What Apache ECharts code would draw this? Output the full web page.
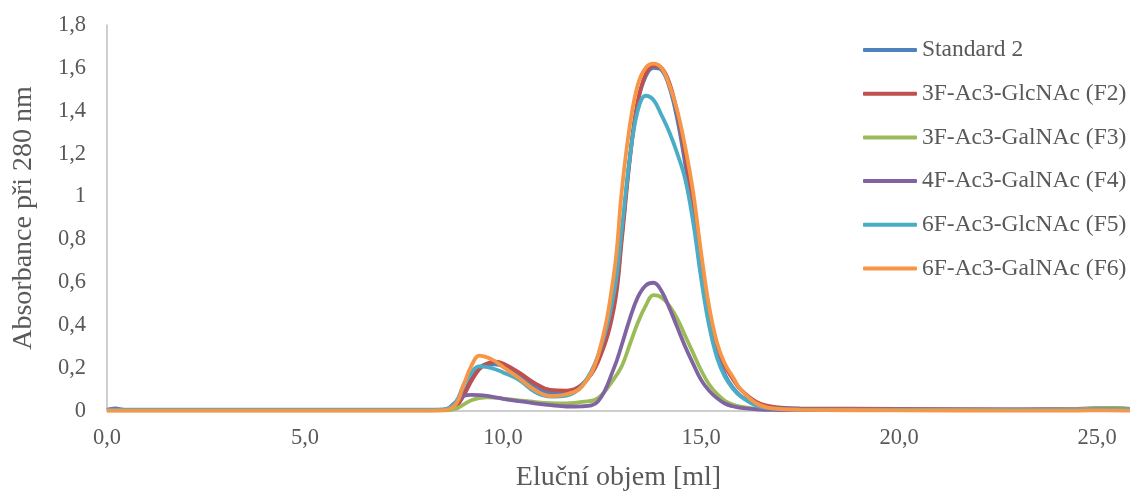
<!DOCTYPE html>
<html>
<head>
<meta charset="utf-8">
<script src="https://cdn.jsdelivr.net/npm/echarts@6/dist/echarts.min.js"></script>
<style>
  html, body { margin: 0; padding: 0; background: #fff; }
  #chart { width: 1130px; height: 493px; }
</style>
</head>
<body>
<div id="chart"></div>
<script>
// elution volume [ml]
const elutionVolume = [0, 0.2, 0.5, 4, 8, 8.5, 8.8, 9.0, 9.2, 9.4, 9.6, 9.8, 10.0, 10.4, 10.8, 11.2, 11.6, 12.0, 12.4, 12.8,
  13.0, 13.2, 13.4, 13.6, 13.8, 14.0, 14.2, 14.4, 14.6, 14.8, 15.0, 15.2, 15.4, 15.6, 15.8, 16.0, 16.4, 16.8, 17.5, 20,
  23, 24.5, 25.2, 25.83];

const standard2 = [0.005, 0.005, 0.005, 0.005, 0.005, 0.006, 0.02, 0.08, 0.15, 0.2, 0.218, 0.218, 0.21, 0.165, 0.115,
  0.085, 0.085, 0.12, 0.24, 0.5, 0.82, 1.18, 1.44, 1.56, 1.60, 1.59, 1.51, 1.36, 1.15, 0.92, 0.64, 0.42, 0.27, 0.17,
  0.11, 0.07, 0.028, 0.014, 0.009, 0.007, 0.006, 0.007, 0.01, 0.008];
const f2GlcNAc3 = [0.004, 0.004, 0.004, 0.004, 0.004, 0.005, 0.02, 0.07, 0.14, 0.195, 0.222, 0.23, 0.222, 0.18, 0.13,
  0.098, 0.095, 0.125, 0.23, 0.48, 0.8, 1.17, 1.44, 1.57, 1.61, 1.60, 1.53, 1.39, 1.19, 0.96, 0.68, 0.46, 0.31, 0.21,
  0.15, 0.1, 0.042, 0.02, 0.012, 0.01, 0.008, 0.01, 0.014, 0.01];
const f3GalNAc3 = [0.003, 0.003, 0.003, 0.003, 0.003, 0.003, 0.01, 0.03, 0.05, 0.06, 0.064, 0.062, 0.058, 0.05, 0.042,
  0.037, 0.036, 0.042, 0.06, 0.15, 0.21, 0.31, 0.41, 0.49, 0.54, 0.53, 0.49, 0.43, 0.35, 0.27, 0.19, 0.125, 0.08,
  0.048, 0.03, 0.02, 0.01, 0.006, 0.005, 0.005, 0.005, 0.008, 0.014, 0.01];
const f4GalNAc4 = [0.005, 0.012, 0.004, 0.004, 0.004, 0.005, 0.04, 0.07, 0.075, 0.074, 0.07, 0.064, 0.057, 0.046, 0.036,
  0.027, 0.021, 0.022, 0.045, 0.2, 0.31, 0.43, 0.53, 0.585, 0.598, 0.56, 0.48, 0.39, 0.3, 0.22, 0.145, 0.095, 0.06,
  0.035, 0.022, 0.015, 0.008, 0.005, 0.004, 0.004, 0.004, 0.005, 0.008, 0.006];
const f5GlcNAc6 = [0.006, 0.006, 0.006, 0.006, 0.006, 0.008, 0.04, 0.12, 0.18, 0.208, 0.205, 0.195, 0.18, 0.145, 0.09,
  0.067, 0.072, 0.12, 0.26, 0.55, 0.85, 1.18, 1.40, 1.47, 1.45, 1.38, 1.30, 1.2, 1.08, 0.88, 0.62, 0.4, 0.25, 0.16,
  0.105, 0.068, 0.025, 0.012, 0.008, 0.006, 0.006, 0.006, 0.008, 0.007];
const f6GalNAc6 = [0.002, 0.002, 0.002, 0.002, 0.002, 0.004, 0.03, 0.12, 0.21, 0.258, 0.25, 0.232, 0.205, 0.154, 0.098,
  0.07, 0.078, 0.115, 0.26, 0.64, 1.03, 1.33, 1.52, 1.60, 1.62, 1.60, 1.52, 1.40, 1.23, 1.02, 0.74, 0.49, 0.32, 0.22,
  0.16, 0.1, 0.035, 0.012, 0.005, 0.003, 0.002, 0.002, 0.003, 0.002];

const seriesNames = ['Standard 2', '3F-Ac3-GlcNAc (F2)', '3F-Ac3-GalNAc (F3)', '4F-Ac3-GalNAc (F4)',
  '6F-Ac3-GlcNAc (F5)', '6F-Ac3-GalNAc (F6)'];
const seriesValues = [standard2, f2GlcNAc3, f3GalNAc3, f4GalNAc4, f5GlcNAc6, f6GalNAc6];
const seriesColors = ['#4F81BD', '#C0504D', '#9BBB59', '#8064A2', '#4BACC6', '#F79646'];

const font = '"Liberation Serif", "Times New Roman", serif';

const chart = echarts.init(document.getElementById('chart'));

const option = {
  animation: false,
  backgroundColor: '#fff',
  grid: { left: 107, right: 0, top: 25, bottom: 82, outerBoundsMode: 'none', containLabel: false },
  legend: {
    orient: 'vertical',
    left: 858,
    top: 33,
    icon: 'roundRect',
    itemWidth: 54,
    itemHeight: 4,
    itemGap: 19.7,
    data: seriesNames,
    textStyle: { fontFamily: font, fontSize: 23.5, color: '#595959', lineHeight: 24 }
  },
  xAxis: {
    type: 'value',
    min: 0,
    max: 25.83,
    interval: 5,
    name: 'Eluční objem [ml]',
    nameLocation: 'middle',
    nameGap: 53,
    nameTextStyle: { fontFamily: font, fontSize: 28, color: '#595959' },
    axisLine: { lineStyle: { color: '#BFBFBF', width: 1.5 } },
    axisTick: { show: false },
    splitLine: { show: false },
    axisLabel: {
      margin: 16,
      fontFamily: font, fontSize: 22.5, color: '#595959',
      formatter: v => (v % 5 === 0 ? v.toFixed(1).replace('.', ',') : '')
    }
  },
  yAxis: {
    type: 'value',
    min: 0,
    max: 1.8,
    interval: 0.2,
    name: 'Absorbance při 280 nm',
    nameLocation: 'middle',
    nameGap: 69,
    nameTextStyle: { fontFamily: font, fontSize: 28, color: '#595959' },
    axisLine: { show: true, lineStyle: { color: '#BFBFBF', width: 1.5 } },
    axisTick: { show: false },
    splitLine: { show: false },
    axisLabel: {
      margin: 21,
      fontFamily: font, fontSize: 22.5, color: '#595959',
      formatter: v => String(Math.round(v * 10) / 10).replace('.', ',')
    }
  },
  series: seriesNames.map((name, i) => ({
    name: name,
    type: 'line',
    smooth: 0.4,
    symbol: 'none',
    color: seriesColors[i],
    lineStyle: { width: 3.8, color: seriesColors[i] },
    data: elutionVolume.map((x, k) => [x, seriesValues[i][k]])
  }))
};

chart.setOption(option);
</script>
</body>
</html>
